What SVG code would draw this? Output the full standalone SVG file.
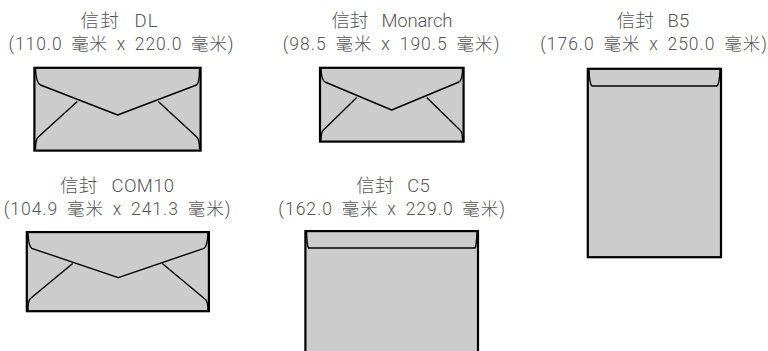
<svg xmlns="http://www.w3.org/2000/svg" width="768" height="351" viewBox="0 0 768 351">
<style>
.t{font-family:"Roboto","Noto Sans CJK SC",sans-serif;font-weight:300;font-size:17.5px;fill:#555;text-anchor:middle;word-spacing:3.5px}
.h{font-size:18.5px;word-spacing:9px}
.box{fill:#ccc;stroke:#000;stroke-width:2.2}
.ln{fill:none;stroke:#000;stroke-width:1.4;stroke-linejoin:round}
</style>
<rect width="768" height="351" fill="#fff"/>
<g id="dl">
<text class="t h" x="119" y="26.5" textLength="77" lengthAdjust="spacing">信封 DL</text>
<text class="t" x="121" y="49.5" textLength="225" lengthAdjust="spacing">(110.0 毫米 x 220.0 毫米)</text>
<rect class="box" x="34.4" y="67.8" width="166.2" height="82.8"/>
<path class="ln" d="M35.5,69 Q36,83 40.5,85 L117.7,115 L196.5,85 Q199.5,83 199.5,69"/>
<path class="ln" d="M35.5,149 Q35.5,139 38.5,136.7 L77.3,101.5 M199.5,149 Q199.5,139 196.5,136.7 L158.3,101.5"/>
</g>
<g id="monarch">
<text class="t h" x="392" y="26.5" textLength="121" lengthAdjust="spacing">信封 Monarch</text>
<text class="t" x="391" y="49.5" textLength="216.7" lengthAdjust="spacing">(98.5 毫米 x 190.5 毫米)</text>
<rect class="box" x="320" y="67.8" width="143.6" height="73.8"/>
<path class="ln" d="M321,69 Q321.5,80 325,82 L391.7,110 L459,82 Q462.5,80 462.5,69"/>
<path class="ln" d="M321,140.5 Q321,132 323.5,130 L356.7,97.5 M462.5,140.5 Q462.5,132 460,130 L426.7,97.5"/>
</g>
<g id="b5">
<text class="t h" x="653" y="26.5" textLength="72.7" lengthAdjust="spacing">信封 B5</text>
<text class="t" x="653.5" y="49.5" textLength="226.7" lengthAdjust="spacing">(176.0 毫米 x 250.0 毫米)</text>
<rect class="box" x="587.8" y="68.8" width="133.2" height="188.4"/>
<path class="ln" d="M589,70 Q589.5,84 592,86 L717,86 Q719.5,84 720,70"/>
</g>
<g id="com10">
<text class="t h" x="117" y="191.5" textLength="114" lengthAdjust="spacing">信封 COM10</text>
<text class="t" x="117" y="214.5" textLength="226.7" lengthAdjust="spacing">(104.9 毫米 x 241.3 毫米)</text>
<rect class="box" x="26.8" y="232.1" width="182.1" height="79.1"/>
<path class="ln" d="M28,233 Q28.5,246 31.7,248.3 L118.3,277.7 L204,248.3 Q207.5,246 208,233"/>
<path class="ln" d="M28,310 Q28,300 30.7,298.3 L72.7,263.5 M208,310 Q208,300 204,298.3 L162.3,263.5"/>
</g>
<g id="c5">
<text class="t h" x="393" y="191.5" textLength="73.3" lengthAdjust="spacing">信封 C5</text>
<text class="t" x="391.7" y="214.5" textLength="226.7" lengthAdjust="spacing">(162.0 毫米 x 229.0 毫米)</text>
<rect class="box" x="305.4" y="231.1" width="172.6" height="140"/>
<path class="ln" d="M306.5,232 Q307,246 308.5,248 L475,248 Q476.5,246 477,232"/>
</g>
</svg>
